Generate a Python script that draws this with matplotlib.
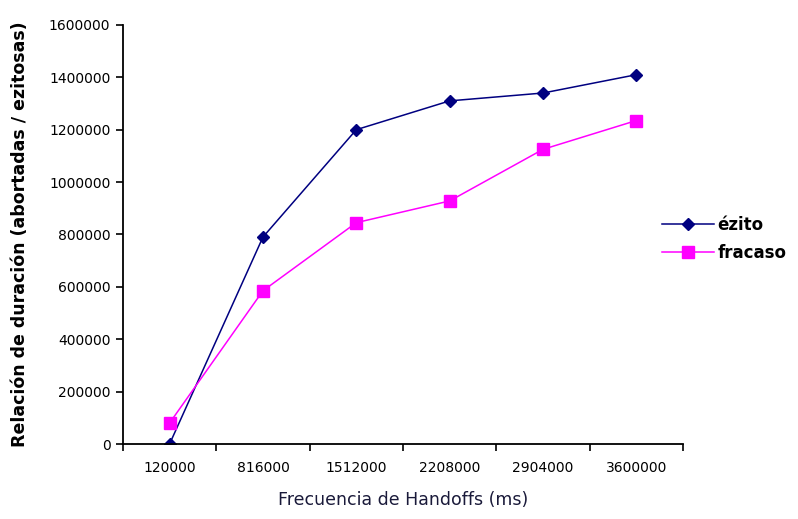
import numpy as np
import matplotlib
matplotlib.use("Agg")
import matplotlib.pyplot as plt

plt.rcParams['font.family'] = ['DejaVu Sans']

categories = ['120000', '816000', '1512000', '2208000', '2904000', '3600000']
exito = [0, 790000, 1200000, 1310000, 1340000, 1410000]
fracaso = [80000, 585000, 845000, 928000, 1125000, 1235000]

fig = plt.figure(figsize=(7.98, 5.19), dpi=100)
ax = fig.add_axes([0.154, 0.1445, 0.702, 0.8075])

x = np.arange(len(categories)) + 0.5
ax.plot(x, exito, color='#000080', marker='D', markersize=6, linewidth=1.1,
        label='ézito')
ax.plot(x, fracaso, color='#FF00FF', marker='s', markersize=8, linewidth=1.1,
        label='fracaso')

ax.set_xlim(0, len(categories))
ax.set_ylim(0, 1600000)
ax.set_yticks(np.arange(0, 1600001, 200000))
ax.set_yticklabels([str(v) for v in range(0, 1600001, 200000)], fontsize=10)
ax.set_xticks(x)
ax.set_xticklabels(categories, fontsize=10)
ax.set_xticks(np.arange(0, len(categories) + 1), minor=True)
ax.tick_params(axis='x', which='major', length=0, pad=12)
ax.tick_params(axis='x', which='minor', length=5, width=1.2, direction='out')
ax.tick_params(axis='y', length=5, width=1.2, direction='out', pad=4)

for s in ['top', 'right']:
    ax.spines[s].set_visible(False)
for s in ['left', 'bottom']:
    ax.spines[s].set_linewidth(1.3)

ax.set_xlabel('Frecuencia de Handoffs (ms)', fontsize=12.5, color='#1a1a3a', labelpad=12)
ax.set_ylabel('Relación de duración (abortadas / ezitosas)', fontsize=12.5,
              fontweight='bold', labelpad=14)

leg = fig.legend(loc='center left', bbox_to_anchor=(0.83, 0.54), frameon=False,
                 prop={'weight': 'bold', 'size': 12}, handlelength=3.1,
                 borderaxespad=0, borderpad=0, labelspacing=0.6, handletextpad=0.2)

fig.savefig('out.png', dpi=100)
